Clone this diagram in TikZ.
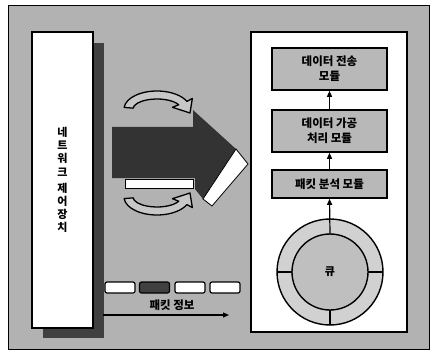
\documentclass[tikz,border=0pt]{standalone}
\usepackage{fontspec}
\newfontfamily\kor{Noto Sans CJK KR}
\usetikzlibrary{arrows.meta,calc}
\begin{document}
\begin{tikzpicture}[x=1pt, y=1pt,
  module/.style={draw, line width=1.6pt, fill=black!28, minimum width=115pt, align=center, font=\kor\bfseries\fontsize{11.5}{15}\selectfont, inner sep=2pt},
  pkt/.style={draw, line width=1.2pt, rounded corners=2pt, minimum width=30pt, minimum height=11pt, inner sep=0pt},
  link/.style={line width=1.2pt, -{Triangle[length=6pt, width=5pt]}},
  curl/.style={draw, line width=1.3pt, fill=black!22, line join=round}]
\useasboundingbox (0,0) rectangle (430,351);
\fill[black!30] (8,2) rectangle (429,345);
\draw[line width=1pt] (8,2) rectangle (429,345);

% control unit with shadow
\fill[black!75] (43,13) rectangle (104,308);
\node[draw, line width=1.4pt, fill=white, minimum width=61pt, minimum height=296pt, outer sep=0pt, align=center, font=\kor\bfseries\fontsize{11}{13.2}\selectfont] (ctrl) at (62.5,171) {네\\트\\워\\크\\[3pt]제\\어\\장\\치};

% big arrow
\fill[black!80] (112,224) -- (193,224) -- (193,241) -- (236,202) -- (203,152) -- (195,162) -- (195,173) -- (112,173) -- cycle;
\draw[fill=white, line width=0.8pt] (125,163) rectangle (193,172);
\draw[fill=white, line width=0.8pt] (236,202) -- (248,187) -- (212,145) -- (203,152) -- cycle;

% curled arrows
\coordinate (cu) at (157,242);
\draw[curl] ($(cu)+(175:33 and 18)$) arc[start angle=175, end angle=25, x radius=33, y radius=18] -- ($(cu)+(25:39 and 25)$) -- ($(cu)+(33,-4)$) -- ($(cu)+(25:17 and 4)$) -- ($(cu)+(25:24 and 10)$) arc[start angle=25, end angle=175, x radius=24, y radius=10] -- cycle;
\coordinate (cl) at (157,154);
\draw[curl] ($(cl)+(185:33 and 18)$) arc[start angle=185, end angle=335, x radius=33, y radius=18] -- ($(cl)+(335:39 and 25)$) -- ($(cl)+(33,4)$) -- ($(cl)+(335:17 and 4)$) -- ($(cl)+(335:24 and 10)$) arc[start angle=335, end angle=185, x radius=24, y radius=10] -- cycle;

% host
\node[draw, line width=1.4pt, fill=white, minimum width=156pt, minimum height=300pt, outer sep=0pt] (host) at (329,169) {};
\node[module, minimum height=42pt] (send) at (329.5,282) {데이터 전송\\모듈};
\node[module, minimum height=42pt] (proc) at (329.5,220) {데이터 가공\\처리 모듈};
\node[module, minimum height=28pt] (parse) at (329.5,167) {패킷 분석 모듈};

\node[circle, draw, line width=1.4pt, fill=black!18, minimum size=106pt, inner sep=0pt, outer sep=0pt] (ring) at (330,79) {};
\node[circle, draw, line width=1.4pt, fill=black!25, minimum size=76pt, inner sep=0pt, outer sep=0pt, font=\kor\bfseries\fontsize{11}{13}\selectfont] (queue) at (ring.center) {큐};
\draw[line width=1.2pt] (queue.east) -- (ring.east);
\draw[line width=1.2pt] (queue.west) -- (ring.west);
\draw[line width=1.2pt] (queue.south) -- (ring.south);

\draw[link] (queue.north) -- (parse.south);
\draw[link] (parse.north) -- (proc.south);
\draw[link] (proc.north) -- (send.south);

% packets
\node[pkt, fill=white] (pk1) at (120,63.5) {};
\node[pkt, fill=black!75] (pk2) at (154.5,63.5) {};
\node[pkt, fill=white] (pk3) at (190,63.5) {};
\node[pkt, fill=white] (pk4) at (225,63.5) {};
\node[font=\kor\bfseries\fontsize{11.5}{14}\selectfont] (pinfo) at (172,46) {패킷 정보};
\coordinate (pin) at (103,36);
\coordinate (pout) at (229,36);
\draw[link] (pin) -- (pout);

\end{tikzpicture}
\end{document}
